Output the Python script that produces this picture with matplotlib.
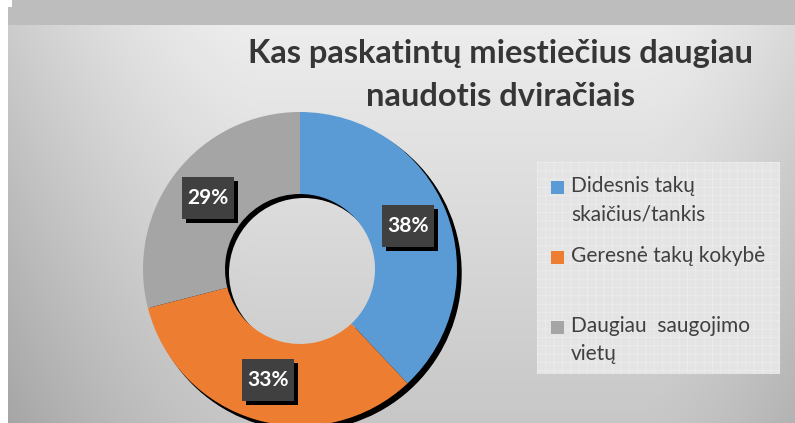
import matplotlib.pyplot as plt
import matplotlib.patches as mpatches
import numpy as np

# Duomenys (dalys procentais)
categories = ["Didesnis takų\nskaičius/tankis", "Geresnė takų kokybė", "Daugiau  saugojimo\nvietų"]
shares = [38, 33, 29]
colors = ["#5b9bd5", "#ed7d31", "#a5a5a5"]
title = "Kas paskatintų miestiečius daugiau\nnaudotis dviračiais"

W, H = 795, 423
fig = plt.figure(figsize=(W / 100, H / 100), dpi=100)
ax = fig.add_axes([0, 0, 1, 1])

# background gradient (pixel grid, image rows from top)
yy, xx = np.mgrid[0:H, 0:W].astype(float)
t = np.clip((yy - 25) / (H - 25), 0, 1)
bg = 0.93 - 0.15 * t
bg -= 0.13 * np.clip(1 - (xx - 8) / 250, 0, 1) ** 1.5
bg -= 0.08 * np.clip(1 - (W - xx) / 150, 0, 1) ** 1.5
bg[yy < 25] = 0.745
bg[(xx < 8) & (yy >= 7)] = 1.0
bg[(xx < 12) & (yy < 7)] = 1.0
bg_rgb = np.dstack([bg, bg, bg])
ax.imshow(bg_rgb, extent=(0, W, 0, H), origin="upper", zorder=0, interpolation="bilinear")

cx, cy = 300, H - 269
R, r_in = 157, 75

# outer shadow
ax.add_patch(mpatches.Circle((cx + 4, cy - 4), R, color="black", zorder=1))
# inner hole with inset shadow: background clipped to shifted circle
hole = ax.imshow(bg_rgb, extent=(0, W, 0, H), origin="upper", zorder=2, interpolation="bilinear")
hole.set_clip_path(mpatches.Circle((cx + 4, cy - 4), r_in, transform=ax.transData))

wedges, texts, autotexts = ax.pie(
    shares, colors=colors, startangle=90, counterclock=False,
    center=(cx, cy), radius=R,
    wedgeprops=dict(width=R - r_in, linewidth=0),
    autopct="%d%%", pctdistance=(R + r_in) / 2 / R,
    textprops=dict(color="white", fontsize=15, fontweight="bold", family="Lato"),
)
for w in wedges:
    w.set_zorder(3)

# dark label boxes with drop shadow (axes data units == pixels here)
bw, bh = 52, 42
for at in autotexts:
    at.set_zorder(7)
    x, y = at.get_position()
    ax.add_patch(mpatches.Rectangle((x - bw / 2 + 4, y - bh / 2 - 4), bw, bh,
                                    facecolor="black", edgecolor="none", zorder=5))
    ax.add_patch(mpatches.Rectangle((x - bw / 2, y - bh / 2), bw, bh,
                                    facecolor="#404040", edgecolor="none", zorder=6))

ax.set_xlim(0, W)
ax.set_ylim(0, H)
ax.set_aspect("auto")
ax.axis("off")

# title
fig.text(500 / W, 1 - 75 / H, title, ha="center", va="center", fontsize=23.5,
         fontweight="bold", color="#363636", family="Lato", linespacing=1.55)

# legend panel
plt.rcParams["hatch.color"] = "#eeeeee"
plt.rcParams["hatch.linewidth"] = 0.5
ax.add_patch(mpatches.Rectangle((537, H - 374), 243, 212, facecolor="#e4e4e4",
                                edgecolor="#eeeeee", linewidth=0, hatch="++", zorder=2))
first_line = [187, 257, 327]
for lab, col, y0 in zip(categories, colors, first_line):
    ax.add_patch(mpatches.Rectangle((551, H - y0 - 7), 13, 13, facecolor=col,
                                    edgecolor="none", zorder=4))
    ax.text(571, H - y0 + 11, lab, ha="left", va="top", fontsize=15, color="#404040",
            family="Lato", linespacing=1.5, zorder=4)

fig.savefig("out.png", dpi=100)
